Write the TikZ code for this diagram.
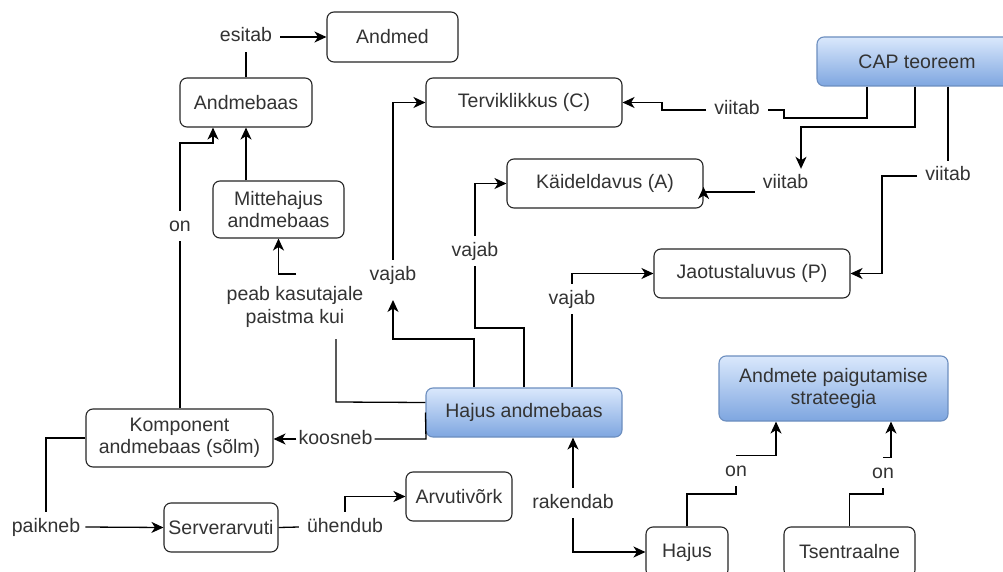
\documentclass[tikz,border=0pt]{standalone}
\usepackage{fontspec}
\setmainfont{Liberation Sans}
\usetikzlibrary{arrows.meta}
\definecolor{txt}{HTML}{333333}
\definecolor{blueT}{HTML}{DAE8FC}
\definecolor{blueB}{HTML}{7EA6E0}
\definecolor{blueD}{HTML}{6C8EBF}
\newcommand{\dfont}{\fontsize{19.5}{22.5}\selectfont}
\begin{document}
\begin{tikzpicture}[x=1pt,y=-1pt,
  box/.style={draw=black!85, line width=1.1pt, rounded corners=7pt, text=txt, font=\dfont, align=center, inner sep=0pt},
  bluebox/.style={box, draw=blueD, top color=blueT, bottom color=blueB},
  lbl/.style={text=txt, font=\dfont, text height=14pt, text depth=4pt, inner ysep=6pt, inner xsep=8pt},
  lblm/.style={text=txt, font=\dfont, align=center, inner sep=4pt},
  conn/.style={line width=1.3pt, draw=black},
  arr/.style={conn, -{Stealth[length=12pt,width=11pt,inset=3.5pt]}}
]
\clip (0,0) rectangle (1003,572);
\fill[white] (0,0) rectangle (1003,572);

% boxes
\node[box, minimum width=131pt, minimum height=50pt] (andmed) at (392.5,37) {Andmed};
\node[box, minimum width=132pt, minimum height=49pt] (andmebaas) at (246,102.5) {Andmebaas};
\node[box, minimum width=196pt, minimum height=49pt] (terv) at (524,102.5) {Terviklikkus (C)};
\node[bluebox, minimum width=200pt, minimum height=49pt] (cap) at (917,61.5) {CAP teoreem};
\node[box, minimum width=196pt, minimum height=49pt] (kaid) at (605,183.5) {Käideldavus (A)};
\node[box, minimum width=196pt, minimum height=49pt] (jaot) at (752,273.5) {Jaotustaluvus (P)};
\node[box, minimum width=131pt, minimum height=57pt] (mitte) at (278.5,209.5) {Mittehajus\\andmebaas};
\node[bluebox, minimum width=196pt, minimum height=49pt] (hajusab) at (524,412.5) {Hajus andmebaas};
\node[bluebox, minimum width=229pt, minimum height=65pt] (strat) at (833.5,388.5) {Andmete paigutamise\\strateegia};
\node[box, minimum width=187pt, minimum height=58pt] (komp) at (179.5,438) {Komponent\\andmebaas (sõlm)};
\node[box, minimum width=114pt, minimum height=49pt] (server) at (221,527.5) {Serverarvuti};
\node[box, minimum width=106pt, minimum height=49pt] (arvuti) at (459,496.5) {Arvutivõrk};
\node[box, minimum width=82pt, minimum height=50pt] (hajus) at (687,552) {Hajus};
\node[box, minimum width=131pt, minimum height=50pt] (tsent) at (849.5,552) {Tsentraalne};

% labels
\node[lbl] (esitab) at (246,37) {esitab};
\node[lbl] (on1) at (180,226) {on};
\node[lblm] (peab) at (295,307) {peab kasutajale\\paistma kui};
\node[lbl] (vajabT) at (393,275) {vajab};
\node[lbl] (vajabK) at (475,251) {vajab};
\node[lbl] (vajabJ) at (572,299) {vajab};
\node[lbl] (viitabC) at (737,110) {viitab};
\node[lbl] (viitabA) at (785.5,184) {viitab};
\node[lbl] (viitabP) at (948,176) {viitab};
\node[lbl, inner xsep=2pt] (koosneb) at (335.5,439) {koosneb};
\node[lbl, inner xsep=5pt] (paikneb) at (46,527) {paikneb};
\node[lbl] (uhendub) at (345,527) {ühendub};
\node[lbl] (rakendab) at (573,503) {rakendab};
\node[lbl] (onH) at (736,471) {on};
\node[lbl] (onT) at (883,473) {on};

% connectors
\draw[conn] (andmebaas.north) -- (andmebaas.north |- esitab.south);
\draw[arr] (esitab.east) -- (andmed.west);
\draw[arr] (mitte.north -| andmebaas.south) -- (andmebaas.south);
\draw[conn] (komp.north -| on1.south) -- (on1.south);
\draw[arr] (on1.north) -- (180,143) -| ([xshift=-33pt]andmebaas.south);
\draw[arr] (296,274) -| (mitte.south);
\draw[conn] ([yshift=10pt]hajusab.west) -- (336,402) -- (336,339);
\draw[arr] ([xshift=-50pt]hajusab.north) -- (474,339) -| (vajabT.south |- 0,300);
\draw[arr] (vajabT.north) |- (terv.west);
\draw[conn] (hajusab.north) -- (524,328) -| (vajabK.south);
\draw[arr] (vajabK.north) |- (kaid.west);
\draw[conn] (hajusab.north -| vajabJ.south) -- (vajabJ.south);
\draw[arr] (vajabJ.north) |- (jaot.west);
\draw[conn] ([xshift=-50pt]cap.south) -- (867,118) -- (784,118) |- (viitabC.east);
\draw[arr] (viitabC.west) -- (662,110) |- (terv.east);
\draw[arr] ([xshift=-2pt]cap.south) -- (915,127) -- (801,127) -- (viitabA.north -| 801,0);
\draw[arr] ([yshift=-8pt]viitabA.west) -- ([yshift=-8.5pt]kaid.east) -- ++(0,-5);
\draw[conn] ([xshift=31pt]cap.south) -- (viitabP.north);
\draw[arr] (viitabP.west) -- (882,176) |- (jaot.east);
\draw[conn] (hajusab.west) -- (426,439) -- (koosneb.east);
\draw[arr] (koosneb.west) -- (komp.east |- koosneb.west);
\draw[conn] (komp.west) -| (paikneb.north);
\draw[arr] (paikneb.east) -- (server.west);
\draw[conn] (server.east) -- (uhendub.west);
\draw[arr] (uhendub.north) |- (arvuti.west);
\draw[arr] (rakendab.north) -- (rakendab.north |- hajusab.south);
\draw[arr] (rakendab.south) |- (hajus.west);
\draw[conn] (hajus.north) -- (687,494) -| (onH.south);
\draw[arr] (onH.north) -| ([xshift=-57.5pt]strat.south);
\draw[conn] (tsent.north) -- (849.5,494) -| (onT.south);
\draw[arr] (onT.north) -| ([xshift=57.5pt]strat.south);
\end{tikzpicture}
\end{document}
